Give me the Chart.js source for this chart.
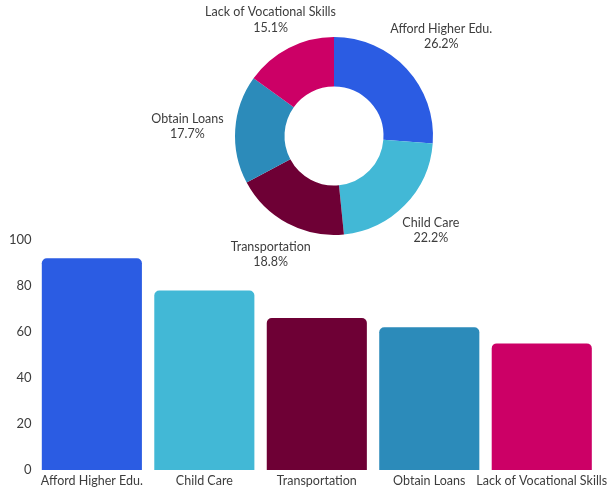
<!DOCTYPE html>
<html>
<head>
<meta charset="utf-8">
<script src="https://cdn.jsdelivr.net/npm/chart.js@4/dist/chart.umd.min.js"></script>
<style>
  html, body { margin: 0; padding: 0; background: #fff; }
  body { width: 608px; height: 489px; position: relative; overflow: hidden; }
  #pieBox { position: absolute; left: 134px; top: 0; width: 400px; height: 272px; }
  #barBox { position: absolute; left: 0; top: 228px; width: 608px; height: 264px; }
</style>
</head>
<body>
<div id="barBox"><canvas id="barChart"></canvas></div>
<div id="pieBox"><canvas id="pieChart"></canvas></div>
<script>
const categories = ["Afford Higher Edu.", "Child Care", "Transportation", "Obtain Loans", "Lack of Vocational Skills"];
const barValues = [92, 78, 66, 62, 55];
const sharePercent = [26.2, 22.2, 18.8, 17.7, 15.1];
const yTicks = [0, 20, 40, 60, 80, 100];
const colors = ["#2b5ce3", "#42b8d6", "#6e0035", "#2c8bba", "#cc0066"];

const textColor = "#3d3d3d";
const fontFamily = "Lato, 'DejaVu Sans', sans-serif";

// draws "label / xx.x%" outside each doughnut slice
const outsideLabels = {
  id: "outsideLabels",
  afterDatasetsDraw(chart) {
    const ctx = chart.ctx;
    const arcs = chart.getDatasetMeta(0).data;
    ctx.save();
    ctx.font = "12.5px " + fontFamily;
    ctx.fillStyle = textColor;
    ctx.textAlign = "center";
    ctx.textBaseline = "middle";
    arcs.forEach((arc, i) => {
      const mid = (arc.startAngle + arc.endAngle) / 2;
      const lines = [chart.data.labels[i], chart.data.datasets[0].data[i].toFixed(1) + "%"];
      const halfW = Math.max(...lines.map(l => ctx.measureText(l).width)) / 2;
      const c = Math.cos(mid), s = Math.sin(mid);
      const dist = arc.outerRadius + 16 + 3 * s + 0.89 * halfW * Math.abs(c);
      const cx = arc.x + c * dist;
      // keep the label block inside the canvas
      const cy = Math.max(arc.y + s * dist, 20);
      ctx.fillText(lines[0], cx, cy - 7.8);
      ctx.fillText(lines[1], cx, cy + 7.8);
    });
    ctx.restore();
  }
};

new Chart(document.getElementById("pieChart"), {
  type: "doughnut",
  data: {
    labels: categories,
    datasets: [{
      data: sharePercent,
      backgroundColor: colors,
      borderWidth: 0
    }]
  },
  options: {
    responsive: true,
    maintainAspectRatio: false,
    animation: false,
    cutout: "50%",
    layout: { padding: { top: 37, bottom: 37, left: 101, right: 101 } },
    plugins: { legend: { display: false }, tooltip: { enabled: false } }
  },
  plugins: [outsideLabels]
});

new Chart(document.getElementById("barChart"), {
  type: "bar",
  data: {
    labels: categories,
    datasets: [{
      data: barValues,
      backgroundColor: colors,
      borderRadius: { topLeft: 5, topRight: 5 },
      borderSkipped: "bottom",
      categoryPercentage: 1,
      barPercentage: 0.89
    }]
  },
  options: {
    responsive: true,
    maintainAspectRatio: false,
    animation: false,
    layout: { padding: { top: 10, left: 5, right: 10, bottom: 0 } },
    plugins: { legend: { display: false }, tooltip: { enabled: false } },
    scales: {
      x: {
        grid: { display: false, drawTicks: false },
        border: { display: false },
        // long end labels may overhang, keep the plot full width
        afterFit(scale) { scale.paddingLeft = 0; scale.paddingRight = 0; },
        ticks: {
          color: textColor,
          font: { family: fontFamily, size: 12.5 },
          maxRotation: 0,
          autoSkip: false,
          padding: 3.5
        }
      },
      y: {
        min: 0,
        max: 100,
        afterBuildTicks(axis) { axis.ticks = yTicks.map(v => ({ value: v })); },
        grid: { display: false, drawTicks: false },
        border: { display: false },
        ticks: {
          color: textColor,
          font: { family: fontFamily, size: 13 },
          padding: 4
        }
      }
    }
  }
});
</script>
</body>
</html>
